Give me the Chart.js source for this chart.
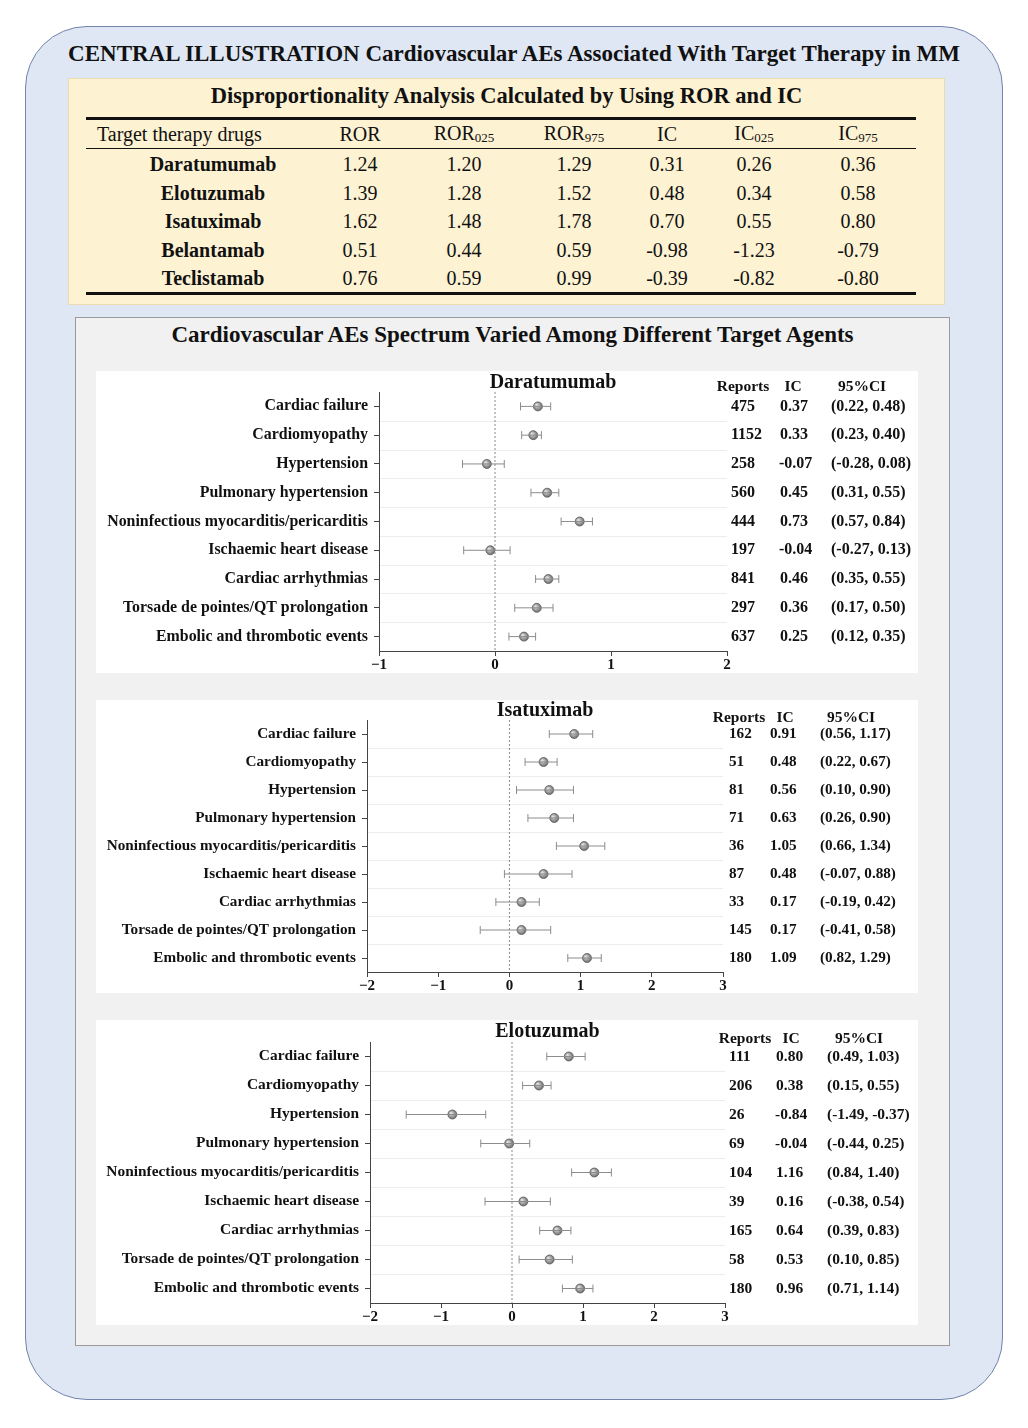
<!DOCTYPE html>
<html>
<head>
<meta charset="utf-8">
<script src="https://cdn.jsdelivr.net/npm/chart.js@4.4.1/dist/chart.umd.min.js"></script>
<style>
  body { margin: 0; width: 1028px; height: 1428px; background: #fff; position: relative; font-family: "Liberation Serif", "Times New Roman", serif; color: #111; }
  .abs { position: absolute; }
  #frame { left: 25px; top: 26px; width: 978px; height: 1374px; background: #dfe7f4; border: 1.5px solid #7184a9; border-radius: 62px; box-sizing: border-box; }
  #mainTitle { left: 0; width: 1028px; top: 41px; text-align: center; font-weight: bold; font-size: 23px; white-space: nowrap; }
  #tableBox { left: 68px; top: 78px; width: 877px; height: 227px; background: #fdf2d2; border: 1px solid #eadcae; box-sizing: border-box; }
  #tableTitle { left: 68px; width: 877px; top: 83px; text-align: center; font-weight: bold; font-size: 22.5px; white-space: nowrap; }
  .rule { position: absolute; left: 86px; width: 830px; background: #111; }
  .cell { position: absolute; transform: translate(-50%, -50%); white-space: nowrap; font-size: 20px; }
  .cell sub { font-size: 13px; vertical-align: -2px; }
  .drug { font-weight: bold; }
  #grayPanel { left: 75px; top: 317px; width: 875px; height: 1029px; background: #f1f1f1; border: 1px solid #9a9a9a; box-sizing: border-box; }
  #grayTitle { left: 75px; width: 875px; top: 322px; text-align: center; font-weight: bold; font-size: 23px; white-space: nowrap; }
  .panel { position: absolute; left: 96px; width: 822px; background: #fff; }
  canvas { position: absolute; left: 0; top: 0; }
</style>
</head>
<body>
<div id="frame" class="abs"></div>
<div id="mainTitle" class="abs">CENTRAL ILLUSTRATION Cardiovascular AEs Associated With Target Therapy in MM</div>
<div id="tableBox" class="abs"></div>
<div id="tableTitle" class="abs">Disproportionality Analysis Calculated by Using ROR and IC</div>
<div class="rule" style="top:117px;height:2.5px"></div>
<div class="rule" style="top:148px;height:1.2px"></div>
<div class="rule" style="top:292px;height:2.5px"></div>
<div id="tableCells"></div>
<div id="grayPanel" class="abs"></div>
<div id="grayTitle" class="abs">Cardiovascular AEs Spectrum Varied Among Different Target Agents</div>
<div class="panel" style="top:371px;height:302px"><canvas id="daraChart" width="822" height="302"></canvas></div>
<div class="panel" style="top:700px;height:293px"><canvas id="isaChart" width="822" height="293"></canvas></div>
<div class="panel" style="top:1020px;height:305px"><canvas id="eloChart" width="822" height="305"></canvas></div>

<script>
// table data
const drugs = ['Daratumumab', 'Elotuzumab', 'Isatuximab', 'Belantamab', 'Teclistamab'];
const rorVals = ['1.24', '1.39', '1.62', '0.51', '0.76'];
const ror025 = ['1.20', '1.28', '1.48', '0.44', '0.59'];
const ror975 = ['1.29', '1.52', '1.78', '0.59', '0.99'];
const icVals = ['0.31', '0.48', '0.70', '-0.98', '-0.39'];
const ic025 = ['0.26', '0.34', '0.55', '-1.23', '-0.82'];
const ic975 = ['0.36', '0.58', '0.80', '-0.79', '-0.80'];
const tableHeaders = ['ROR', 'ROR<sub>025</sub>', 'ROR<sub>975</sub>', 'IC', 'IC<sub>025</sub>', 'IC<sub>975</sub>'];

// forest plot data
const categories = [
  'Cardiac failure',
  'Cardiomyopathy',
  'Hypertension',
  'Pulmonary hypertension',
  'Noninfectious myocarditis/pericarditis',
  'Ischaemic heart disease',
  'Cardiac arrhythmias',
  'Torsade de pointes/QT prolongation',
  'Embolic and thrombotic events'
];

const daraReports = [475, 1152, 258, 560, 444, 197, 841, 297, 637];
const daraIC = [0.37, 0.33, -0.07, 0.45, 0.73, -0.04, 0.46, 0.36, 0.25];
const daraLow = [0.22, 0.23, -0.28, 0.31, 0.57, -0.27, 0.35, 0.17, 0.12];
const daraHigh = [0.48, 0.40, 0.08, 0.55, 0.84, 0.13, 0.55, 0.50, 0.35];

const isaReports = [162, 51, 81, 71, 36, 87, 33, 145, 180];
const isaIC = [0.91, 0.48, 0.56, 0.63, 1.05, 0.48, 0.17, 0.17, 1.09];
const isaLow = [0.56, 0.22, 0.10, 0.26, 0.66, -0.07, -0.19, -0.41, 0.82];
const isaHigh = [1.17, 0.67, 0.90, 0.90, 1.34, 0.88, 0.42, 0.58, 1.29];

const eloReports = [111, 206, 26, 69, 104, 39, 165, 58, 180];
const eloIC = [0.80, 0.38, -0.84, -0.04, 1.16, 0.16, 0.64, 0.53, 0.96];
const eloLow = [0.49, 0.15, -1.49, -0.44, 0.84, -0.38, 0.39, 0.10, 0.71];
const eloHigh = [1.03, 0.55, -0.37, 0.25, 1.40, 0.54, 0.83, 0.85, 1.14];

// build the table
const colX = [360, 464, 574, 667, 754, 858];
const rowY = [164, 193, 221, 250, 278];
const cellsDiv = document.getElementById('tableCells');
const addCell = (html, x, y, cls, left) => {
    const d = document.createElement('div');
    d.className = 'cell' + (cls ? ' ' + cls : '');
    d.innerHTML = html;
    d.style.left = x + 'px';
    d.style.top = y + 'px';
    if (left) d.style.transform = 'translate(0,-50%)';
    cellsDiv.appendChild(d);
};
addCell('Target therapy drugs', 97, 134, '', true);
tableHeaders.forEach((h, j) => addCell(h, colX[j], 134));
const cols = [rorVals, ror025, ror975, icVals, ic025, ic975];
drugs.forEach((name, i) => {
    addCell(name, 213, rowY[i], 'drug');
    cols.forEach((c, j) => addCell(c[i], colX[j], rowY[i]));
});

const serif = '"Liberation Serif", "Times New Roman", serif';

const sphere = (c) => {
    if (!c.parsed || !c.chart.chartArea) return '#999';
    const px = c.chart.scales.x.getPixelForValue(c.parsed.x);
    const py = c.chart.scales.y.getPixelForValue(c.parsed.y);
    const g = c.chart.ctx.createRadialGradient(px - 1.5, py - 1.5, 0.5, px, py, 5);
    g.addColorStop(0, '#e0e0e0');
    g.addColorStop(1, '#626262');
    return g;
};

function makeForest(id, title, reports, ic, low, high, lay) {
    const whiskers = ic.map((v, i) => ({
        type: 'line',
        data: [{x: low[i], y: i}, {x: high[i], y: i}],
        borderColor: '#8c8c8c',
        borderWidth: 1,
        pointStyle: 'line',
        pointRotation: 90,
        pointRadius: 4,
        pointBorderColor: '#8c8c8c',
        pointBorderWidth: 1
    }));

    const textPlugin = {
        id: 'forestText',
        beforeDatasetsDraw(chart) {
            const {ctx, chartArea, scales: {y}} = chart;
            ctx.save();
            ctx.strokeStyle = '#ececec';
            ctx.lineWidth = 1;
            for (let i = 0; i < categories.length - 1; i++) {
                const py = Math.round(y.getPixelForValue(i + 0.5)) + 0.5;
                ctx.beginPath();
                ctx.moveTo(chartArea.left + 1, py);
                ctx.lineTo(chartArea.right, py);
                ctx.stroke();
            }
            ctx.restore();
        },
        afterDraw(chart) {
            const {ctx, chartArea, scales: {y}} = chart;
            ctx.save();
            ctx.fillStyle = '#111';
            ctx.textBaseline = 'middle';
            ctx.font = 'bold 20px ' + serif;
            ctx.textAlign = 'center';
            ctx.fillText(title, (chartArea.left + chartArea.right) / 2, lay.titleY);
            ctx.font = 'bold 15.5px ' + serif;
            ctx.fillText('Reports', lay.hRep, lay.headY);
            ctx.fillText('IC', lay.hIC, lay.headY);
            ctx.fillText('95%CI', lay.hCI, lay.headY);
            ctx.font = 'bold ' + lay.valSize + 'px ' + serif;
            ctx.textAlign = 'left';
            reports.forEach((r, i) => {
                const py = y.getPixelForValue(i);
                ctx.fillText(String(r), lay.vRep, py);
                ctx.fillText(ic[i].toFixed(2), lay.vIC + (ic[i] < 0 ? -1 : 0), py);
                ctx.fillText('(' + low[i].toFixed(2) + ', ' + high[i].toFixed(2) + ')', lay.vCI, py);
            });
            ctx.restore();
        }
    };

    return new Chart(document.getElementById(id), {
        type: 'scatter',
        data: {
            datasets: [
                {
                    type: 'line',
                    data: [{x: 0, y: -0.5}, {x: 0, y: categories.length - 0.5}],
                    borderColor: '#8a8a8a',
                    borderWidth: 1,
                    borderDash: [2, 2],
                    pointRadius: 0
                },
                ...whiskers,
                {
                    type: 'scatter',
                    data: ic.map((v, i) => ({x: v, y: i})),
                    pointRadius: 4.5,
                    backgroundColor: sphere,
                    borderColor: '#5e5e5e',
                    borderWidth: 0.8
                }
            ]
        },
        options: {
            responsive: false,
            animation: false,
            layout: {padding: {top: lay.top, right: lay.right, left: 0, bottom: 0}},
            plugins: {legend: {display: false}, tooltip: {enabled: false}},
            scales: {
                x: {
                    type: 'linear',
                    min: lay.xMin,
                    max: lay.xMax,
                    afterFit: (s) => { s.height = lay.xAxisH; },
                    ticks: {
                        stepSize: 1,
                        padding: 0,
                        color: '#111',
                        font: {family: serif, weight: 'bold', size: 15},
                        callback: (v) => String(v).replace('-', '\u2212')
                    },
                    grid: {display: true, drawOnChartArea: false, drawTicks: true, tickLength: 5, color: '#444'},
                    border: {display: true, color: '#444', width: 1}
                },
                y: {
                    type: 'linear',
                    min: -0.5,
                    max: categories.length - 0.5,
                    reverse: true,
                    afterFit: (s) => { s.width = lay.yAxisW; },
                    afterBuildTicks: (s) => { s.ticks = categories.map((c, i) => ({value: i})); },
                    ticks: {
                        padding: 6,
                        color: '#111',
                        font: {family: serif, weight: 'bold', size: lay.labelSize},
                        callback: (v) => categories[v]
                    },
                    grid: {display: true, drawOnChartArea: false, drawTicks: true, tickLength: 5, color: '#444'},
                    border: {display: true, color: '#444', width: 1}
                }
            }
        },
        plugins: [textPlugin]
    });
}

let daraChart = makeForest('daraChart', 'Daratumumab', daraReports, daraIC, daraLow, daraHigh, {
    xMin: -1, xMax: 2, top: 21, right: 191, yAxisW: 283, xAxisH: 22, labelSize: 15.9, valSize: 16,
    titleY: 12, headY: 16, hRep: 647, hIC: 697, hCI: 766, vRep: 635, vIC: 684, vCI: 735
});

let isaChart = makeForest('isaChart', 'Isatuximab', isaReports, isaIC, isaLow, isaHigh, {
    xMin: -2, xMax: 3, top: 20, right: 195, yAxisW: 271, xAxisH: 21, labelSize: 15.2, valSize: 15.2,
    titleY: 11, headY: 18, hRep: 643, hIC: 689, hCI: 755, vRep: 633, vIC: 674, vCI: 724
});

let eloChart = makeForest('eloChart', 'Elotuzumab', eloReports, eloIC, eloLow, eloHigh, {
    xMin: -2, xMax: 3, top: 22, right: 193, yAxisW: 274, xAxisH: 22, labelSize: 15.4, valSize: 15.5,
    titleY: 12, headY: 19, hRep: 649, hIC: 695, hCI: 763, vRep: 633, vIC: 680, vCI: 731
});
</script>
</body>
</html>
